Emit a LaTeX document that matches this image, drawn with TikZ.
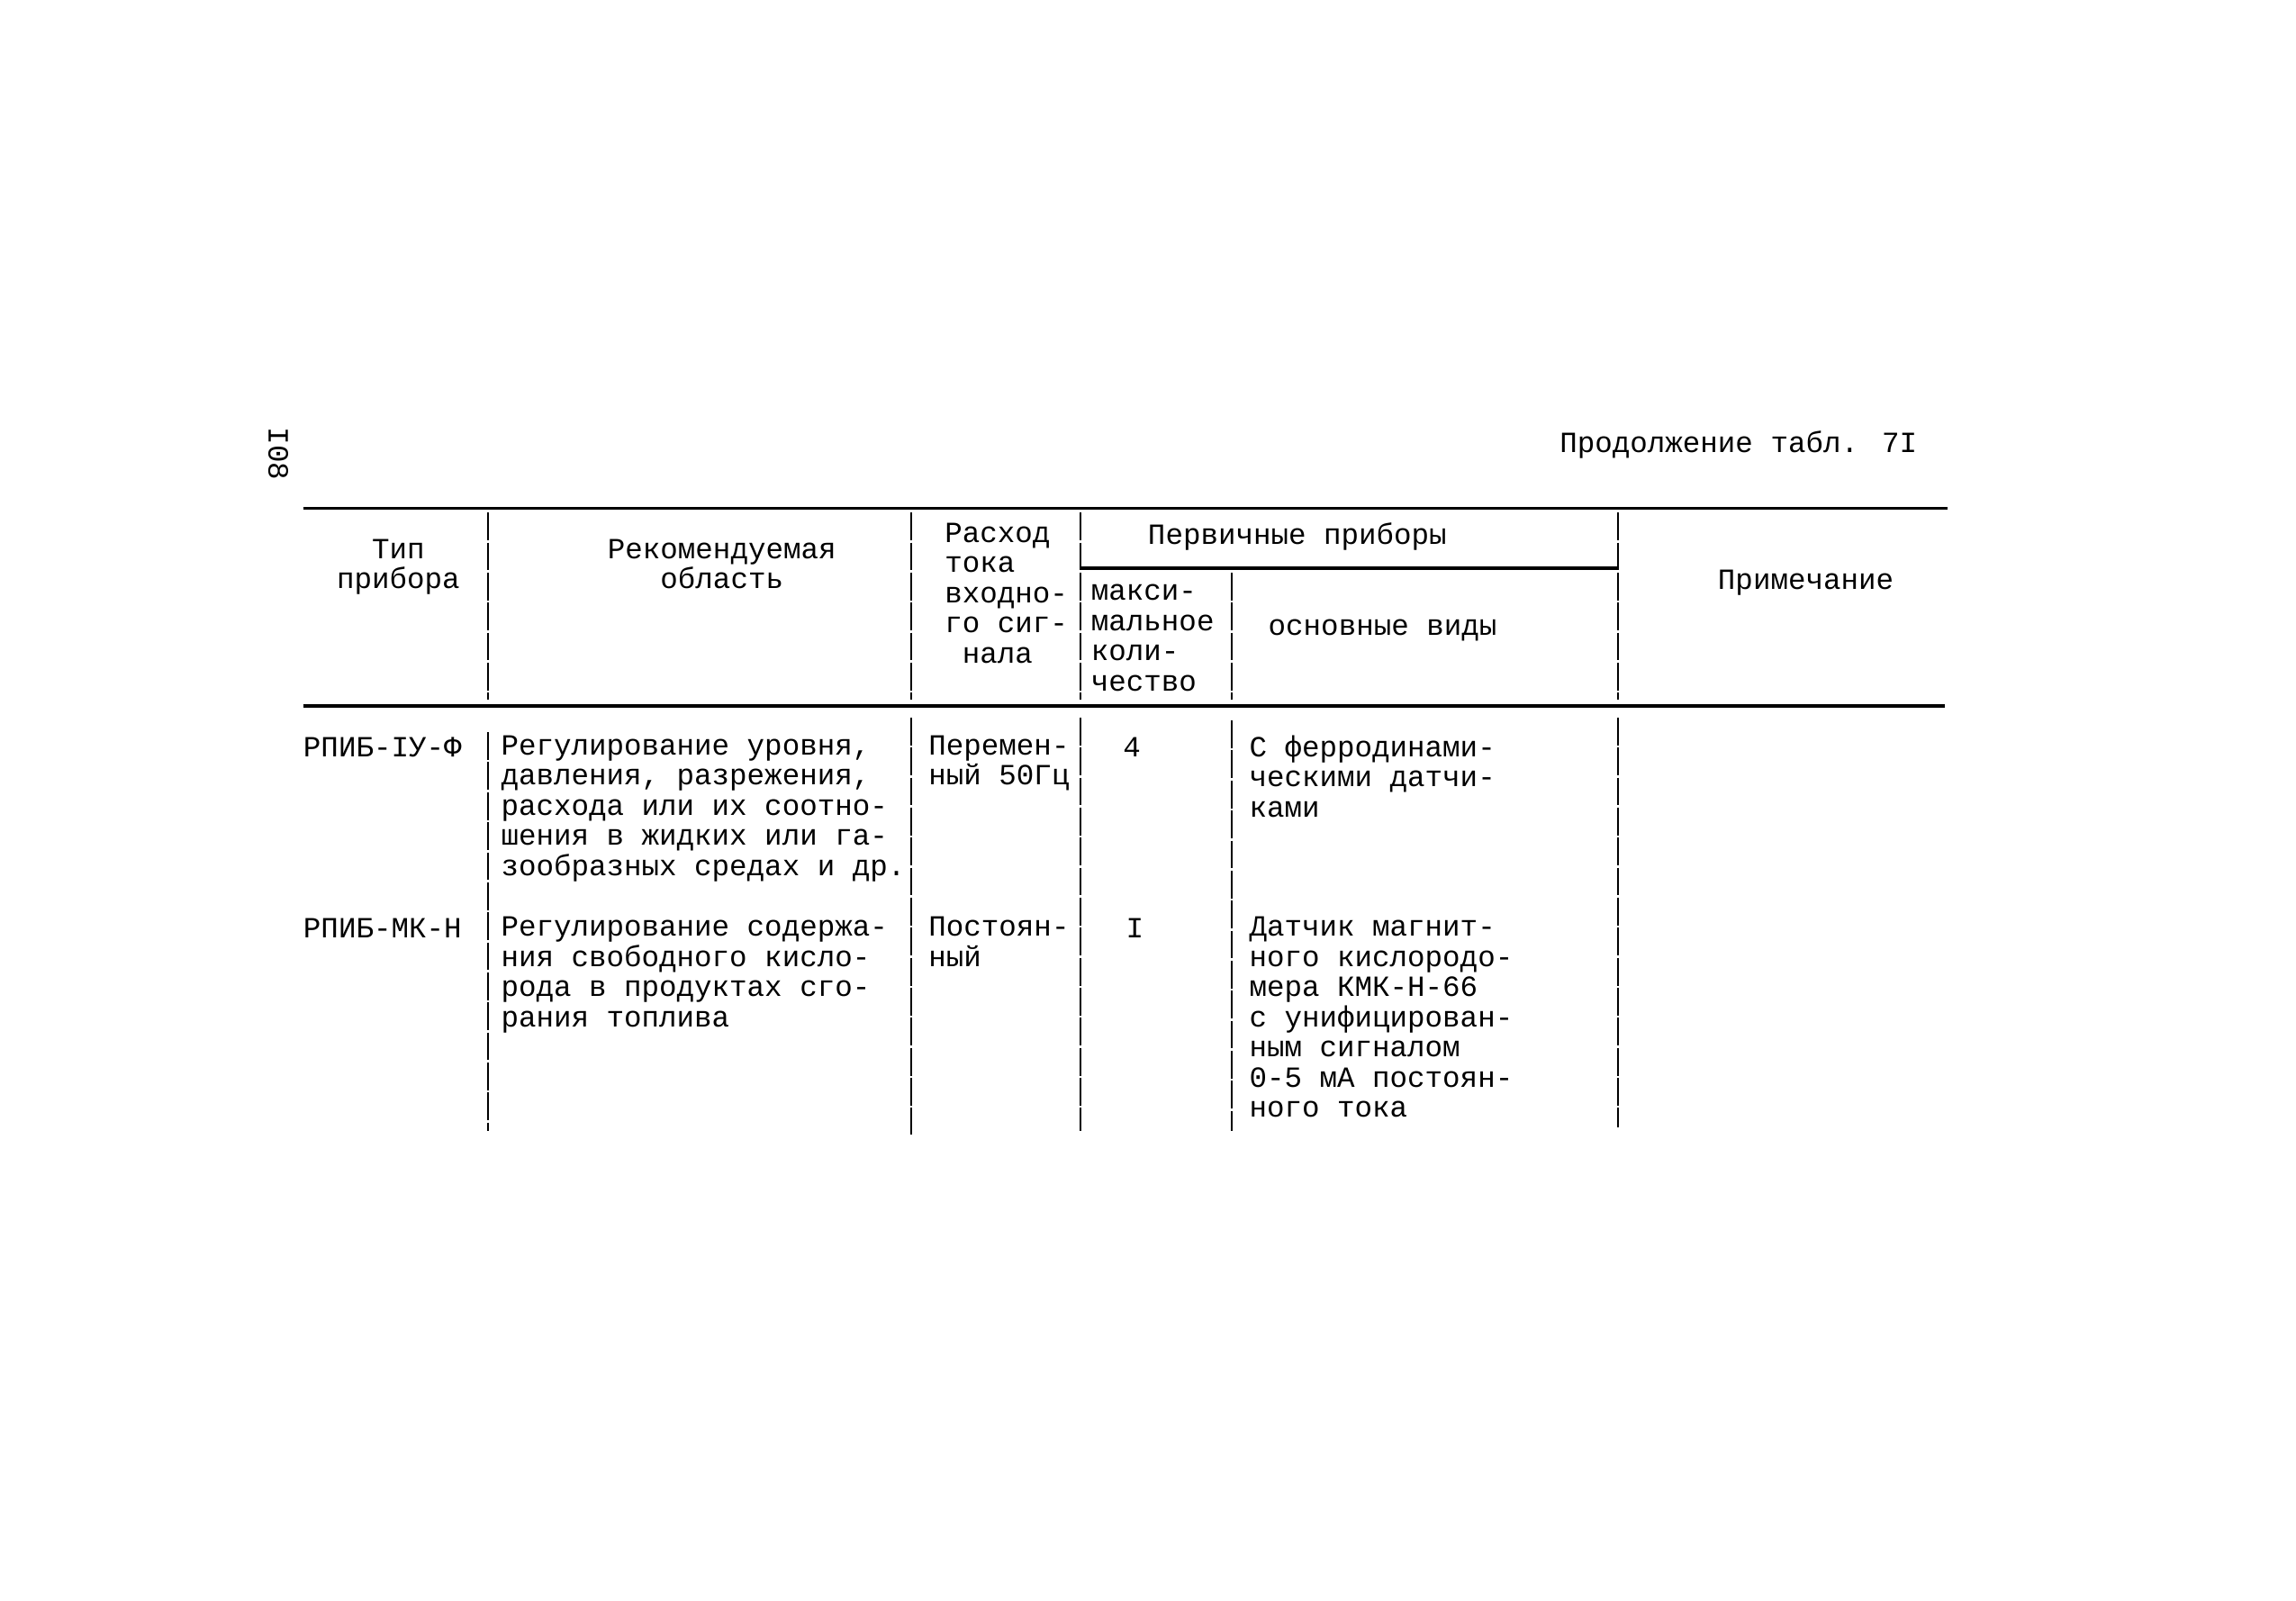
\documentclass[tikz,border=0pt]{standalone}
\usepackage{fontspec}
\newfontfamily\twfont{Liberation Mono}
\newcommand\twsize{\twfont\fontsize{20}{20.6}\selectfont}
\begin{document}
\begin{tikzpicture}[x=1pt,y=-1pt,
  hrule/.style={line width=2.2pt},
  vrule/.style={line width=1.3pt, dash pattern=on 19pt off 1.5pt},
  cell/.style={font=\twsize, inner sep=0pt, anchor=north west, align=left, execute at begin node=\strut},
  ccell/.style={cell, anchor=north, align=center}]
\useasboundingbox (0,0) rectangle (1568,1093);
% page number and title
\node[font=\twsize, inner sep=0pt, rotate=-90] (pagenum) at (190,310) {I08};
\node[cell] (title) at (1065,294) {Продолжение табл. 7I};
% horizontal rules
\draw[hrule] (207,347) -- (1330,347);
\draw[hrule] (738,388) -- (1105,388);
\draw[hrule] (207,482) -- (1328,482);
% vertical rules (header)
\draw[vrule] (333,350) -- (333,478);
\draw[vrule] (622,350) -- (622,478);
\draw[vrule] (738,350) -- (738,478);
\draw[vrule] (841,391) -- (841,478);
\draw[vrule] (1105,350) -- (1105,478);
% vertical rules (body)
\draw[vrule] (333,500) -- (333,772);
\draw[vrule] (622,490) -- (622,775);
\draw[vrule] (738,490) -- (738,772);
\draw[vrule] (841,492) -- (841,772);
\draw[vrule] (1105,490) -- (1105,770);
% header texts
\node[ccell] (h1) at (272,368) {Тип\\прибора};
\node[ccell] (h2) at (493,368) {Рекомендуемая\\область};
\node[cell] (h3) at (645,357) {Расход\\тока\\входно-\\го сиг-\\\phantom{н}нала};
\node[ccell] (h4) at (886,357) {Первичные приборы};
\node[cell] (h41) at (745,399) {макси-\\мальное\\коли-\\чество};
\node[cell] (h42) at (866,419) {основные виды};
\node[cell] (h5) at (1173,388) {Примечание};
% row 1
\node[cell] (r1a) at (207,502) {РПИБ-IУ-Ф};
\node[cell] (r1b) at (342,502) {Регулирование уровня,\\давления, разрежения,\\расхода или их соотно-\\шения в жидких или га-\\зообразных средах и др.};
\node[cell] (r1c) at (634,502) {Перемен-\\ный 50Гц};
\node[ccell] (r1d) at (773,502) {4};
\node[cell] (r1e) at (853,502) {С ферродинами-\\ческими датчи-\\ками};
% row 2
\node[cell] (r2a) at (207,626) {РПИБ-МК-Н};
\node[cell] (r2b) at (342,626) {Регулирование содержа-\\ния свободного кисло-\\рода в продуктах сго-\\рания топлива};
\node[cell] (r2c) at (634,626) {Постоян-\\ный};
\node[ccell] (r2d) at (775,626) {I};
\node[cell] (r2e) at (853,626) {Датчик магнит-\\ного кислородо-\\мера КМК-Н-66\\с унифицирован-\\ным сигналом\\0-5 мА постоян-\\ного тока};
\end{tikzpicture}
\end{document}
